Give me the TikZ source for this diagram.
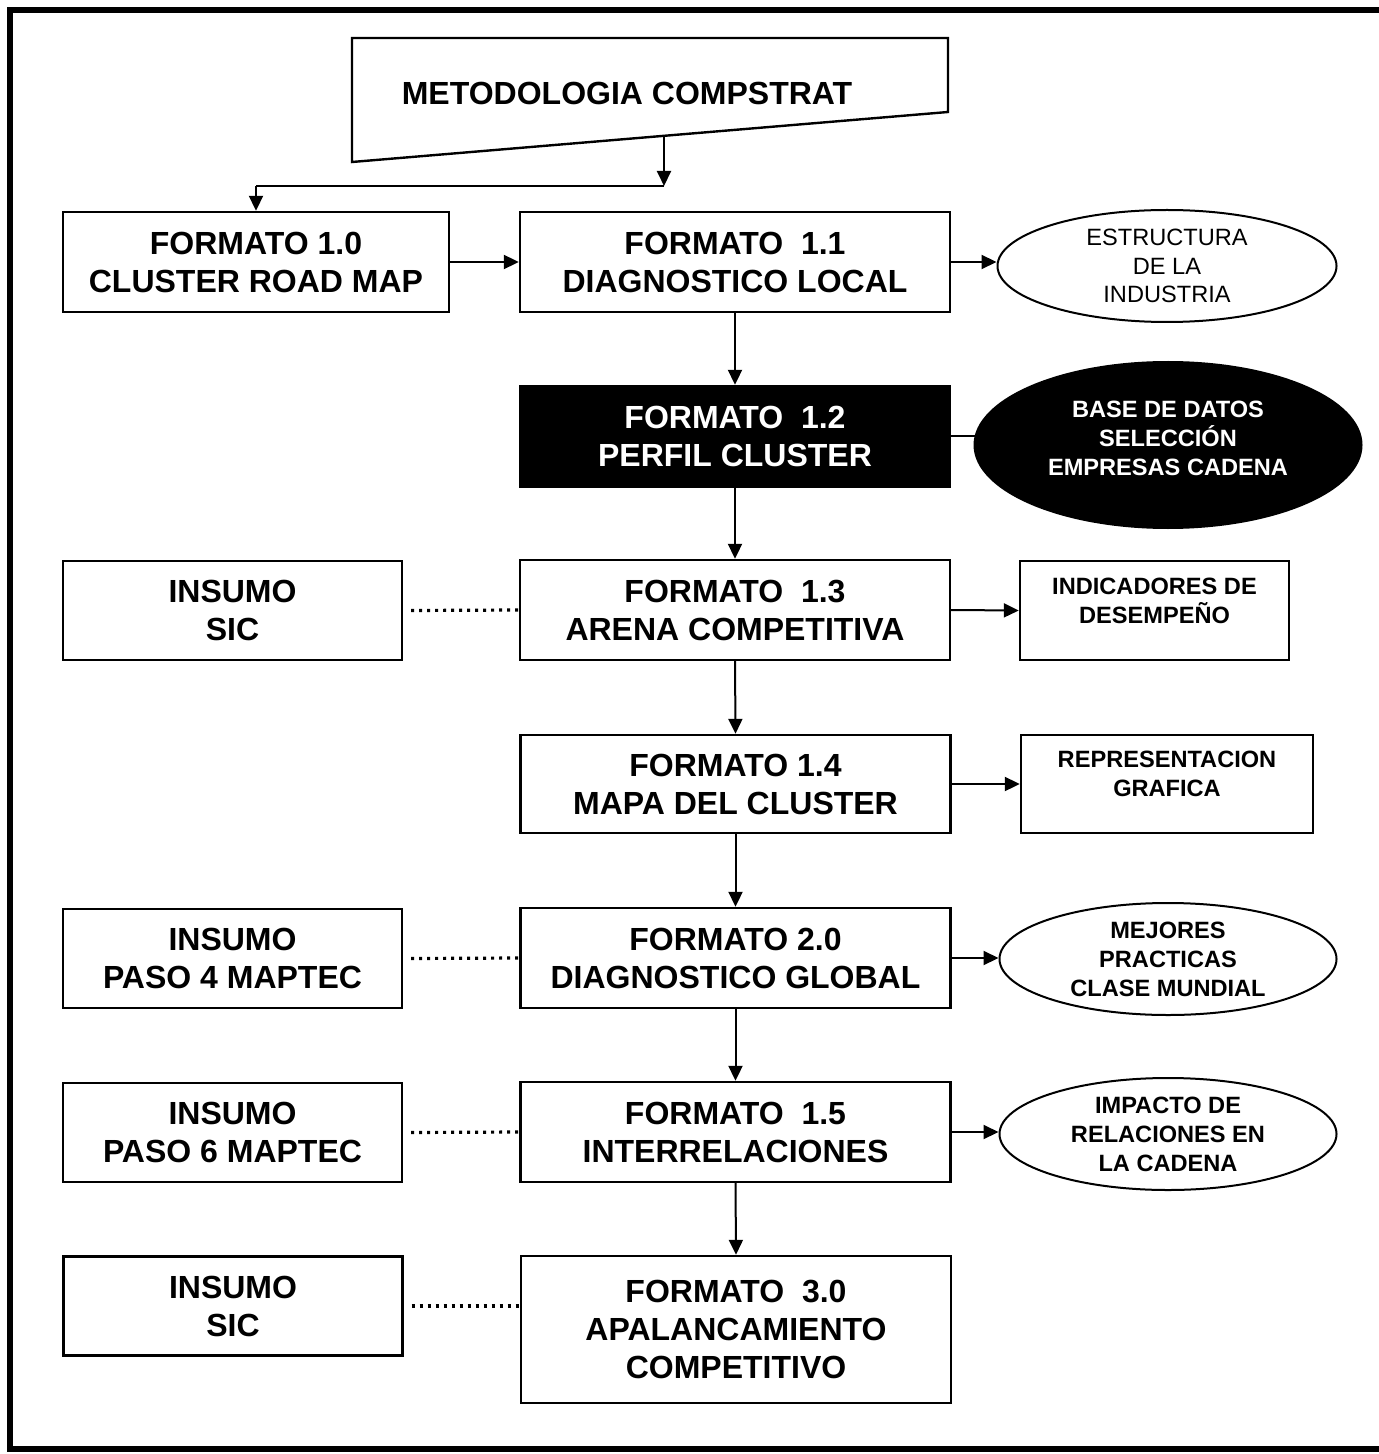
\documentclass[tikz,border=0pt]{standalone}
\usepackage{fontspec}
\setmainfont{Liberation Sans}
\usetikzlibrary{arrows.meta,shapes.geometric}
\begin{document}
\begin{tikzpicture}[x=0.5pt,y=-0.5pt,
  box/.style={draw,line width=1.2pt,inner sep=0pt,align=center,font=\bfseries\fontsize{16}{19}\selectfont},
  bigw/.style={minimum width=215pt},
  insw/.style={minimum width=169.5pt,minimum height=49.5pt},
  ell/.style={draw,ellipse,line width=1pt,inner sep=0pt,align=center},
  smallr/.style={font=\fontsize{11.8}{14.25}\selectfont},
  smallb/.style={font=\bfseries\fontsize{11.8}{14.5}\selectfont},
  arr/.style={line width=1pt,-{Triangle[length=7.5pt,width=7pt]}},
  ln/.style={line width=1pt},
  dots/.style={line width=1.6pt,dash pattern=on 1.5pt off 2.5pt}]
\useasboundingbox (0,0) rectangle (1378,1454);
% frame
\draw[line width=3pt] (1420,10) -- (10,10) -- (10,1449) -- (1420,1449);
% top shape
\draw[line width=1.2pt] (352,38) -- (948,38) -- (948,112) -- (352,162) -- cycle;
\node[font=\bfseries\fontsize{16}{19}\selectfont] (title) at (627,93) {METODOLOGIA COMPSTRAT};
\coordinate (mtop) at (664,136);
\coordinate (jr) at (664,186);
\coordinate (jl) at (256,186);
% main column
\node[box,minimum width=193pt,minimum height=50pt] (f10) at (256,262) {FORMATO 1.0\\CLUSTER ROAD MAP};
\node[box,bigw,minimum height=50pt] (f11) at (735,262) {FORMATO \ 1.1\\DIAGNOSTICO LOCAL};
\node[box,bigw,minimum height=50.5pt,fill=black,text=white] (f12) at (735,436.5) {FORMATO \ 1.2\\PERFIL CLUSTER};
\node[box,bigw,minimum height=50pt] (f13) at (735,610) {FORMATO \ 1.3\\ARENA COMPETITIVA};
\node[box,bigw,minimum height=49pt] (f14) at (735.5,784) {FORMATO 1.4\\MAPA DEL CLUSTER};
\node[box,bigw,minimum height=50pt] (f20) at (735.5,958) {FORMATO 2.0\\DIAGNOSTICO GLOBAL};
\node[box,bigw,minimum height=50pt] (f15) at (735.5,1132) {FORMATO \ 1.5\\INTERRELACIONES};
\node[box,bigw,minimum height=73.5pt] (f30) at (736,1329.5) {FORMATO \ 3.0\\APALANCAMIENTO\\COMPETITIVO};
% left column
\node[box,insw] (i1) at (232.5,610.5) {INSUMO\\SIC};
\node[box,insw] (i2) at (232.5,958.5) {INSUMO\\PASO 4 MAPTEC};
\node[box,insw] (i3) at (232.5,1132.5) {INSUMO\\PASO 6 MAPTEC};
\node[box,insw] (i4) at (233,1306) {INSUMO\\SIC};
% right column
\node[ell,smallr,minimum width=169.5pt,minimum height=56pt] (e1) at (1167,266) {ESTRUCTURA\\DE LA\\INDUSTRIA};
\node[ell,fill=black,minimum width=193.5pt,minimum height=83pt] (e2) at (1168,445) {};
\node[smallb,text=white,align=center,yshift=3.5pt] (e2t) at (e2.center) {BASE DE DATOS\\SELECCIÓN\\EMPRESAS CADENA};
\node[draw,line width=1.2pt,minimum width=134.5pt,minimum height=49.5pt] (ind) at (1154.5,610.5) {};
\node[smallb,align=center,yshift=5pt] (indt) at (ind.center) {INDICADORES DE\\DESEMPEÑO};
\node[draw,line width=1.2pt,minimum width=146pt,minimum height=49pt] (rep) at (1167,784) {};
\node[smallb,align=center,yshift=5pt] (rept) at (rep.center) {REPRESENTACION\\GRAFICA};
\node[ell,smallb,minimum width=168.5pt,minimum height=56pt] (e3) at (1168,959) {MEJORES\\PRACTICAS\\CLASE MUNDIAL};
\node[ell,smallb,minimum width=168.5pt,minimum height=56pt] (e4) at (1168,1134) {IMPACTO DE\\RELACIONES EN\\LA CADENA};
% connectors
\draw[arr] (mtop) -- (jr);
\draw[ln] (jr) -- (jl);
\draw[arr] (jl) -- (f10.north);
\draw[arr] (f10.east) -- (f11.west);
\draw[arr] (f11.east) -- (f11.east -| e1.west);
\draw[arr] (f11.south) -- (f12.north);
\draw[ln] (f12.east) -- ([xshift=2pt]f12.east -| e2.west);
\draw[arr] (f12.south) -- (f13.north);
\draw[arr] (f13.east) -- (ind.west);
\draw[arr] (f13.south) -- (f14.north);
\draw[arr] (f14.east) -- (rep.west);
\draw[arr] (f14.south) -- (f20.north);
\draw[arr] (f20.east) -- (f20.east -| e3.west);
\draw[arr] (f20.south) -- (f15.north);
\draw[arr] (f15.east) -- (f15.east -| e4.west);
\draw[arr] (f15.south) -- (f30.north);
\draw[dots] ([xshift=4pt]i1.east) -- (f13.west);
\draw[dots] ([xshift=4pt]i2.east) -- (f20.west);
\draw[dots] ([xshift=4pt]i3.east) -- (f15.west);
\draw[dots] ([xshift=4pt]i4.east) -- (i4.east -| f30.west);
\end{tikzpicture}
\end{document}
